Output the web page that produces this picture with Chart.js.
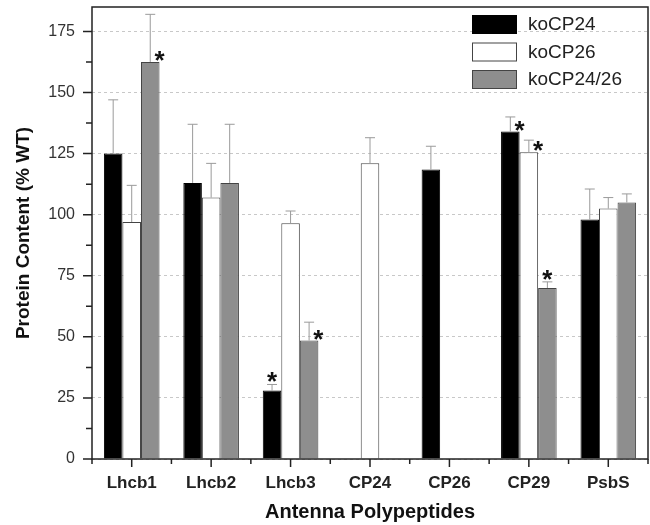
<!DOCTYPE html>
<html>
<head>
<meta charset="utf-8">
<script src="https://cdn.jsdelivr.net/npm/chart.js@4/dist/chart.umd.min.js"></script>
<style>
  html, body { margin: 0; padding: 0; background: #fff; }
  #wrap { width: 650px; height: 525px; }
</style>
</head>
<body>
<div id="wrap"><canvas id="proteinChart"></canvas></div>
<script>
// categories and values
const polypeptides = ['Lhcb1', 'Lhcb2', 'Lhcb3', 'CP24', 'CP26', 'CP29', 'PsbS'];

const koCP24 = [125, 113, 28, null, 118.5, 134, 98];
const koCP24Err = [22, 24, 2.5, null, 9.5, 6, 12.5];
const koCP24Sig = [false, false, true, false, false, true, false];

const koCP26 = [97, 107, 96.5, 121, null, 125.5, 102.5];
const koCP26Err = [15, 14, 5, 10.5, null, 5, 4.5];
const koCP26Sig = [false, false, false, false, false, true, false];

const koCP2426 = [162.5, 113, 48.5, null, null, 70, 105];
const koCP2426Err = [19.5, 24, 7.5, null, null, 2.5, 3.5];
const koCP2426Sig = [true, false, true, false, false, true, false];

const yTicks = [0, 25, 50, 75, 100, 125, 150, 175];

const FONT = '"Liberation Sans", Arial, sans-serif';

// error bars, asterisks, axis ticks, frame and legend
const extras = {
  id: 'extras',
  afterDatasetsDraw(chart) {
    const ctx = chart.ctx;
    const y = chart.scales.y;
    const x = chart.scales.x;
    const area = chart.chartArea;
    ctx.save();

    chart.data.datasets.forEach((ds, i) => {
      const meta = chart.getDatasetMeta(i);
      meta.data.forEach((bar, j) => {
        const v = ds.data[j];
        if (v == null) return;
        const e = ds.errors[j];
        const top = y.getPixelForValue(v + e);
        ctx.strokeStyle = '#9a9a9a';
        ctx.lineWidth = 1;
        ctx.beginPath();
        ctx.moveTo(bar.x, bar.y);
        ctx.lineTo(bar.x, top);
        ctx.moveTo(bar.x - 5, top);
        ctx.lineTo(bar.x + 5, top);
        ctx.stroke();

        if (ds.sig[j]) {
          let cx, cy;
          if (e < 4) {
            cx = bar.x;
            cy = top - 9;
          } else {
            cx = bar.x + bar.width / 2;
            cy = bar.y - 8;
          }
          ctx.fillStyle = '#111';
          ctx.font = 'bold 26px ' + FONT;
          ctx.textAlign = 'center';
          ctx.textBaseline = 'alphabetic';
          ctx.fillText('*', cx, cy + 15);
        }
      });
    });

    // frame
    ctx.strokeStyle = '#222';
    ctx.lineWidth = 1.5;
    ctx.strokeRect(area.left, area.top, area.right - area.left, area.bottom - area.top);

    // y ticks, major and minor
    ctx.beginPath();
    yTicks.forEach(t => {
      const py = y.getPixelForValue(t);
      ctx.moveTo(area.left - 9, py);
      ctx.lineTo(area.left, py);
      if (t + 12.5 <= y.max) {
        const pm = y.getPixelForValue(t + 12.5);
        ctx.moveTo(area.left - 6, pm);
        ctx.lineTo(area.left, pm);
      }
    });
    // x ticks at centres and boundaries
    const step = (area.right - area.left) / polypeptides.length;
    polypeptides.forEach((p, k) => {
      const px = x.getPixelForValue(k);
      ctx.moveTo(px, area.bottom);
      ctx.lineTo(px, area.bottom + 8);
    });
    for (let k = 0; k <= polypeptides.length; k++) {
      const px = area.left + k * step;
      ctx.moveTo(px, area.bottom);
      ctx.lineTo(px, area.bottom + 5);
    }
    ctx.stroke();

    // legend inside the plot, top right
    const lx = 472, ly = 15, rowH = 27.5;
    chart.data.datasets.forEach((ds, i) => {
      const by = ly + i * rowH;
      ctx.fillStyle = ds.backgroundColor;
      ctx.fillRect(lx, by, 45, 19);
      ctx.strokeStyle = ds.borderColor;
      ctx.lineWidth = 1;
      ctx.strokeRect(lx + 0.5, by + 0.5, 44, 18);
      ctx.fillStyle = '#222';
      ctx.font = '19px ' + FONT;
      ctx.textAlign = 'left';
      ctx.textBaseline = 'middle';
      ctx.fillText(ds.label, 528, by + 10);
    });

    ctx.restore();
  }
};

const ctx = document.getElementById('proteinChart').getContext('2d');
new Chart(ctx, {
  type: 'bar',
  data: {
    labels: polypeptides,
    datasets: [
      {
        label: 'koCP24',
        data: koCP24,
        errors: koCP24Err,
        sig: koCP24Sig,
        backgroundColor: '#000000',
        borderColor: '#000000',
        borderWidth: 1
      },
      {
        label: 'koCP26',
        data: koCP26,
        errors: koCP26Err,
        sig: koCP26Sig,
        backgroundColor: '#ffffff',
        borderColor: '#444444',
        borderWidth: 1
      },
      {
        label: 'koCP24/26',
        data: koCP2426,
        errors: koCP2426Err,
        sig: koCP2426Sig,
        backgroundColor: '#8e8e8e',
        borderColor: '#444444',
        borderWidth: 1
      }
    ]
  },
  options: {
    responsive: true,
    maintainAspectRatio: false,
    animation: false,
    layout: {
      padding: { top: 7, right: 2, left: 0, bottom: 0 }
    },
    categoryPercentage: 0.7,
    barPercentage: 1.0,
    plugins: {
      legend: { display: false },
      tooltip: { enabled: false }
    },
    scales: {
      x: {
        grid: { display: false, drawTicks: false },
        border: { display: false },
        ticks: {
          color: '#222',
          padding: 14,
          font: { family: FONT, size: 17, weight: 'bold' }
        },
        title: {
          display: true,
          text: 'Antenna Polypeptides',
          color: '#111',
          padding: { top: 0, bottom: 1 },
          font: { family: FONT, size: 20, weight: 'bold' }
        },
        afterFit(scale) {
          scale.height = 66;
          scale.paddingLeft = 0;
          scale.paddingRight = 0;
        }
      },
      y: {
        min: 0,
        max: 185,
        grid: { color: '#c8c8c8', lineWidth: 1, drawTicks: false },
        border: { display: false, dash: [3, 3] },
        ticks: {
          stepSize: 25,
          includeBounds: false,
          color: '#333',
          padding: 17,
          font: { family: FONT, size: 16 }
        },
        title: {
          display: true,
          text: 'Protein Content (% WT)',
          color: '#111',
          padding: { top: 12, bottom: 0 },
          font: { family: FONT, size: 19, weight: 'bold' }
        },
        afterFit(scale) {
          scale.width = 92;
          scale.paddingTop = 0;
          scale.paddingBottom = 0;
        }
      }
    }
  },
  plugins: [extras]
});
</script>
</body>
</html>
